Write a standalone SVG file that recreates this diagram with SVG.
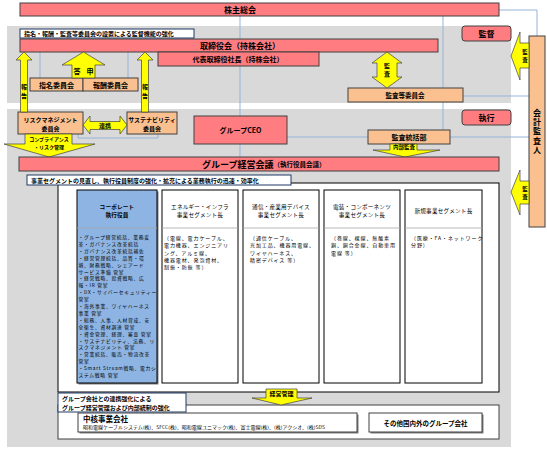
<svg xmlns="http://www.w3.org/2000/svg" width="547" height="449" viewBox="0 0 547 449">
<defs>
<style>
text{font-family:"Noto Sans CJK JP","Noto Sans",sans-serif;fill:#000;dominant-baseline:central}
.b{font-weight:bold}
.c{text-anchor:middle}
.v{writing-mode:vertical-rl;text-anchor:middle}
.pink{fill:#FF7C80;stroke:#404040;stroke-width:1}
.org{fill:#FAC090;stroke:#404040;stroke-width:1}
.yel{fill:#FFFF00;stroke:#404040;stroke-width:0.7}
.bg{fill:#D9D9D9}
.ln{stroke:#95B3D7;stroke-width:1;fill:none}
.note{fill:#fff;stroke:#1F3864;stroke-width:1}
.seg{fill:#fff;stroke:#000;stroke-width:1}
.div{stroke:#A6A6A6;stroke-width:0.8}
.t8{font-size:8px}
.t7{font-size:7px}
.t6{font-size:6px}
.t5{font-size:5px}
.hd{font-size:5.6px;letter-spacing:0.2px}
.body{font-size:5px;letter-spacing:0.9px}
.corp{font-size:4.75px;letter-spacing:0.75px}
</style>
</defs>
<rect width="547" height="449" fill="#fff"/>
<rect class="bg" x="7" y="26" width="504" height="77"/>
<rect class="bg" x="7" y="109" width="504" height="338"/>

<g id="connectors">
<path class="ln" d="M240,16 V157"/>
<path class="ln" d="M443,16 V130"/>
<path class="ln" d="M499,10 H537 V36"/>
<path class="ln" d="M463,96 H529"/>
<path class="ln" d="M287,137 H529"/>
<path class="ln" d="M40,52 V78 M128,52 V78"/>
<path class="ln" d="M78,133 V138 H158 V133"/>
</g>

<g id="shareholders">
<rect class="pink" x="20" y="3" width="479" height="13"/>
<text class="b c t8" x="240" y="9.5">株主総会</text>
</g>

<g id="board">
<rect class="pink" x="20" y="39" width="418" height="13"/>
<text class="b c t8" x="240" y="45.5">取締役会（持株会社）</text>
</g>

<g id="note-supervision">
<rect class="note" x="20" y="29" width="174" height="9"/>
<text class="b t6" x="24" y="33.5">指名・報酬・監査等委員会の設置による監督機能の強化</text>
</g>

<g id="president">
<rect class="pink" x="158" y="52" width="161" height="14"/>
<text class="b c t7" x="238" y="59">代表取締役社長（持株会社）</text>
</g>

<g id="nomination">
<rect class="org" x="30" y="78" width="53" height="13"/>
<text class="b c t7" x="56.5" y="84.5">指名委員会</text>
</g>
<g id="remuneration">
<rect class="org" x="83" y="78" width="55" height="13"/>
<text class="b c t7" x="110.5" y="84.5">報酬委員会</text>
</g>

<g id="audit-committee">
<rect class="org" x="348" y="88" width="115" height="14"/>
<text class="b c" font-size="6.5" x="405" y="95">監査等委員会</text>
</g>

<g id="label-supervision">
<rect class="pink" x="462" y="26" width="49" height="15" rx="3"/>
<text class="b c t8" x="486.5" y="33.5">監督</text>
</g>
<g id="label-execution">
<rect class="pink" x="462" y="110" width="49" height="15" rx="3"/>
<text class="b c t8" x="486.5" y="117.5">執行</text>
</g>

<g id="auditor">
<rect class="org" x="529" y="36" width="16" height="191"/>
<text class="b v t8" x="537" y="132" letter-spacing="1.3">会計監査人</text>
</g>

<g id="risk">
<rect class="org" x="18" y="112" width="65" height="22"/>
<text class="b c t6" x="50.5" y="119">リスクマネジメント</text>
<text class="b c t6" x="50.5" y="128">委員会</text>
</g>
<g id="sustainability">
<rect class="org" x="127" y="112" width="50" height="22"/>
<text class="b c t6" x="152" y="119">サステナビリティ</text>
<text class="b c t6" x="152" y="128">委員会</text>
</g>

<g id="ceo">
<rect class="pink" x="194" y="116" width="93" height="28"/>
<text class="b c t7" x="240.5" y="130">グループCEO</text>
</g>

<g id="internal-audit">
<rect class="org" x="368" y="130" width="82" height="14"/>
<text class="b c t7" x="409" y="137">監査統括部</text>
</g>

<g id="arrows">
<polygon class="yel" points="24,52 32,60 27.5,60 27.5,112 20.5,112 20.5,60 16,60"/>
<text class="b v t6" x="24" y="93" letter-spacing="3">報告</text>
<polygon class="yel" points="145,52 153,60 148.5,60 148.5,112 141.5,112 141.5,60 137,60"/>
<text class="b v t6" x="145" y="93" letter-spacing="3">報告</text>
<polygon class="yel" points="83.5,52 105,65 95,65 95,78 72,78 72,65 62,65"/>
<text class="b c t7" x="77" y="70.5">答</text>
<text class="b c t7" x="90" y="70.5">申</text>
<polygon class="yel" points="387,52 402,63 397,63 397,77 402,77 387,88 372,77 377,77 377,63 372,63"/>
<text class="b v t6" x="387" y="71" letter-spacing="2">監査</text>
<polygon class="yel" points="83,125 90,116 90,121.5 120,121.5 120,116 127,125 120,134 120,129.5 90,129.5 90,134"/>
<text class="b c t6" x="105" y="125.5">連携</text>
<polygon class="yel" points="25,134 72,134 72,144 95,144 49,157 4,144 25,144"/>
<text class="b c t5" x="49" y="138.8">コンプライアンス</text>
<text class="b c t5" x="49" y="146.5">・リスク管理</text>
<polygon class="yel" points="511,56 520,32 520,43 529,43 529,68 520,68 520,80"/>
<text class="b v" font-size="5.5" x="525" y="57" letter-spacing="2.5">監査</text>
<polygon class="yel" points="511,192 520,170 520,181 529,181 529,204 520,204 520,215"/>
<text class="b v" font-size="5.5" x="525" y="194" letter-spacing="2.5">監査</text>
<polygon class="yel" points="390,144 417,144 417,150 440,150 405,157 373,150 390,150"/>
<text class="b c" font-size="5.5" x="404" y="147">内部監査</text>
</g>

<g id="management-meeting">
<rect class="pink" x="19" y="157" width="480" height="14"/>
<text class="b" x="202" y="164"><tspan font-size="9">グループ経営会議</tspan><tspan font-size="6.5">（執行役員会議）</tspan></text>
</g>

<g id="segments-frame">
<rect class="seg" x="58" y="183" width="441" height="209" stroke-width="1.3"/>
</g>

<g id="note-segments">
<rect class="note" x="27" y="175" width="264" height="10"/>
<text class="b t6" x="31" y="180">事業セグメントの見直し、執行役員制度の強化・拡充による業務執行の迅速・効率化</text>
</g>

<g id="corporate">
<rect x="78.5" y="191.5" width="80" height="193" fill="#7F7F7F"/>
<rect x="77" y="190" width="80" height="193" fill="#8DB4E2" stroke="#000" stroke-width="1"/>
<line class="div" x1="77" y1="228" x2="157" y2="228"/>
<text class="b c hd" x="117" y="207">コーポレート</text>
<text class="b c hd" x="117" y="215.2">執行役員</text>
<text class="corp"><tspan x="78.5" y="236">・グループ経営統括、業務変</tspan><tspan x="78.5" y="242.9">革・ガバナンス改革統括</tspan><tspan x="78.5" y="249.8">・ガバナンス改革統括補佐</tspan><tspan x="78.5" y="256.7">・経営管理統括、品質・環</tspan><tspan x="78.5" y="263.6">境、財務戦略、シェアード</tspan><tspan x="78.5" y="270.5">サービス準備 管掌</tspan><tspan x="78.5" y="277.4">・経営戦略、投資戦略、広</tspan><tspan x="78.5" y="284.3">報・IR 管掌</tspan><tspan x="78.5" y="291.2">・DX・サイバーセキュリティー</tspan><tspan x="78.5" y="298.1">管掌</tspan><tspan x="78.5" y="305">・海外事業、ワイヤハーネス</tspan><tspan x="78.5" y="311.9">事業 管掌</tspan><tspan x="78.5" y="318.8">・総務、人事、人材育成、安</tspan><tspan x="78.5" y="325.7">全衛生、資材調達 管掌</tspan><tspan x="78.5" y="332.6">・資金管理、経理、審査 管掌</tspan><tspan x="78.5" y="339.5">・サステナビリティ、法務、リ</tspan><tspan x="78.5" y="346.4">スクマネジメント 管掌</tspan><tspan x="78.5" y="353.3">・営業統括、販売・物流改革</tspan><tspan x="78.5" y="360.2">管掌</tspan><tspan x="78.5" y="367.1">・Smart Stream戦略、電力シ</tspan><tspan x="78.5" y="374">ステム戦略 管掌</tspan></text>
</g>

<g id="energy">
<rect class="seg" x="162" y="190" width="76" height="193"/>
<line class="div" x1="162" y1="228" x2="238" y2="228"/>
<text class="c hd" x="200" y="207">エネルギー・インフラ</text>
<text class="c hd" x="200" y="215.2">事業セグメント長</text>
<text class="body"><tspan x="164" y="237">（電線、電力ケーブル、</tspan><tspan x="164" y="244.3">電力機器、エンジニアリ</tspan><tspan x="164" y="251.6">ング、アルミ線、</tspan><tspan x="164" y="258.9">機器電材、発泡資材、</tspan><tspan x="164" y="266.2">制振・防振 等）</tspan></text>
</g>

<g id="telecom">
<rect class="seg" x="243" y="190" width="76" height="193"/>
<line class="div" x1="243" y1="228" x2="319" y2="228"/>
<text class="c hd" x="281" y="207">通信・産業用デバイス</text>
<text class="c hd" x="281" y="215.2">事業セグメント長</text>
<text class="body"><tspan x="250" y="237">（通信ケーブル、</tspan><tspan x="250" y="244.3">光加工品、機器用電線、</tspan><tspan x="250" y="251.6">ワイヤハーネス、</tspan><tspan x="250" y="258.9">精密デバイス 等）</tspan></text>
</g>

<g id="electrical">
<rect class="seg" x="324" y="190" width="76" height="193"/>
<line class="div" x1="324" y1="228" x2="400" y2="228"/>
<text class="c hd" x="362" y="207">電装・コンポーネンツ</text>
<text class="c hd" x="362" y="215.2">事業セグメント長</text>
<text class="body"><tspan x="331" y="237">（巻線、裸線、無酸素</tspan><tspan x="331" y="244.3">銅、銅合金線、自動車用</tspan><tspan x="331" y="251.6">電線 等）</tspan></text>
</g>

<g id="new-business">
<rect class="seg" x="405" y="190" width="77" height="193"/>
<line class="div" x1="405" y1="228" x2="482" y2="228"/>
<text class="c hd" x="443.5" y="211">新規事業セグメント長</text>
<text class="body"><tspan x="411" y="237">（医療・FA・ネットワーク</tspan><tspan x="411" y="244.3">分野）</tspan></text>
</g>

<g id="group-frame">
<rect x="58" y="405" width="441" height="34" fill="#fff" stroke="#404040" stroke-width="1"/>
</g>

<g id="core-companies">
<rect x="79.5" y="414.5" width="279" height="19" fill="#7F7F7F"/>
<rect x="78" y="413" width="279" height="19" fill="#fff" stroke="#404040" stroke-width="1"/>
<text class="b" font-size="7.5" x="83" y="418.8">中核事業会社</text>
<text font-size="4.4" x="83" y="427.3" textLength="242" lengthAdjust="spacingAndGlyphs">昭和電線ケーブルシステム(株)、SFCC(株)、昭和電線ユニマック(株)、富士電線(株)、(株)アクシオ、(株)SDS</text>
</g>

<g id="other-companies">
<rect x="370.5" y="414.5" width="113" height="19" fill="#7F7F7F"/>
<rect x="369" y="413" width="113" height="19" fill="#fff" stroke="#404040" stroke-width="1"/>
<text class="b c" font-size="6.5" x="425.5" y="422.5">その他国内外のグループ会社</text>
</g>

<g id="note-group">
<rect class="note" x="58" y="393" width="128" height="19"/>
<text class="b t6" x="62" y="398">グループ会社との連携強化による</text>
<text class="b t6" x="62" y="407">グループ経営管理および内部統制の強化</text>
</g>

<g id="arrow-management">
<polygon class="yel" points="266,389 297,389 297,398 312,398 281,405 252,398 266,398"/>
<text class="b c t6" x="281.5" y="393.5">経営管理</text>
</g>
</svg>
